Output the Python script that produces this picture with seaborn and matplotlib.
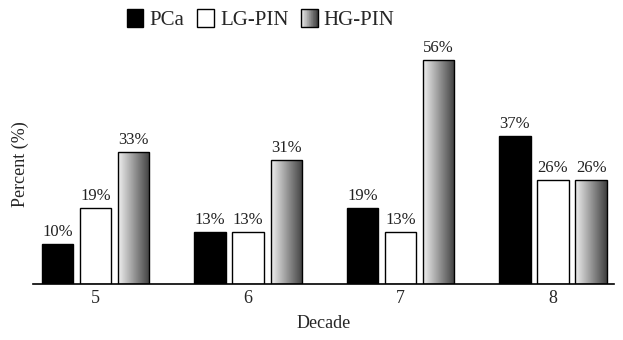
import numpy as np
import pandas as pd
import matplotlib
matplotlib.use("Agg")
import matplotlib.pyplot as plt
import seaborn as sns
from matplotlib.patches import Rectangle
from matplotlib.legend_handler import HandlerPatch

# data
decades = ["5", "6", "7", "8"]
series = ["PCa", "LG-PIN", "HG-PIN"]
pca = [10, 13, 19, 37]
lg_pin = [19, 13, 13, 26]
hg_pin = [33, 31, 56, 26]

df = pd.DataFrame({
    "Decade": decades * 3,
    "Group": [s for s in series for _ in decades],
    "Percent": pca + lg_pin + hg_pin,
})

sns.set_style("white")
plt.rcParams["font.family"] = ["Liberation Serif", "DejaVu Serif"]

fig = plt.figure(figsize=(6.23, 3.40), dpi=100)
ax = fig.add_axes([33 / 623, 56 / 340, 581 / 623, 240 / 340])

palette = {"PCa": "black", "LG-PIN": "white", "HG-PIN": "grey"}
sns.barplot(data=df, x="Decade", y="Percent", hue="Group", order=decades,
            hue_order=series, palette=palette, width=0.75, gap=0.18,
            edgecolor="black", linewidth=1.0, legend=False, ax=ax)

# horizontal grey gradient inside the HG-PIN bars
grad = np.linspace(0.94, 0.25, 256).reshape(1, -1)
for bar in ax.containers[2]:
    bar.set_facecolor("none")
    x0, y0 = bar.get_x(), bar.get_y()
    w, h = bar.get_width(), bar.get_height()
    im = ax.imshow(grad, cmap="gray", vmin=0, vmax=1, aspect="auto",
                   extent=(x0, x0 + w, y0, y0 + h), zorder=1.5)
    im.set_clip_path(bar)
    bar.set_zorder(2)

for cont in ax.containers:
    ax.bar_label(cont, fmt="%d%%", padding=3, fontsize=12, color="#222222")

ax.set_xlim(-0.41, 3.40)
ax.set_ylim(0, 60)
ax.set_yticks([])
ax.tick_params(axis="x", length=0, labelsize=13, pad=4)
for s in ["left", "top", "right"]:
    ax.spines[s].set_visible(False)
ax.spines["bottom"].set_color("black")
ax.spines["bottom"].set_linewidth(1.2)
ax.set_xlabel("Decade", fontsize=13, labelpad=6)
ax.set_ylabel("Percent (%)", fontsize=13, labelpad=3)


class GradientHandler(HandlerPatch):
    def create_artists(self, legend, orig_handle, xdescent, ydescent,
                       width, height, fontsize, trans):
        arts = []
        n = 24
        vals = np.linspace(0.94, 0.25, n)
        for i, v in enumerate(vals):
            r = Rectangle((-xdescent + i * width / n, -ydescent), width / n, height,
                          facecolor=str(v), edgecolor="none", transform=trans)
            arts.append(r)
        arts.append(Rectangle((-xdescent, -ydescent), width, height,
                              facecolor="none", edgecolor="black", lw=1.0, transform=trans))
        return arts


handles = [Rectangle((0, 0), 1, 1, facecolor="black", edgecolor="black"),
           Rectangle((0, 0), 1, 1, facecolor="white", edgecolor="black"),
           Rectangle((0, 0), 1, 1, facecolor="grey", edgecolor="black")]
fig.legend(handles, series, loc="upper left", bbox_to_anchor=(108 / 623, 1.03),
           ncol=3, frameon=False, fontsize=15, handlelength=0.8, handleheight=1.0,
           handletextpad=0.3, columnspacing=0.6,
           handler_map={handles[2]: GradientHandler()})

fig.savefig("out.png", dpi=100)
